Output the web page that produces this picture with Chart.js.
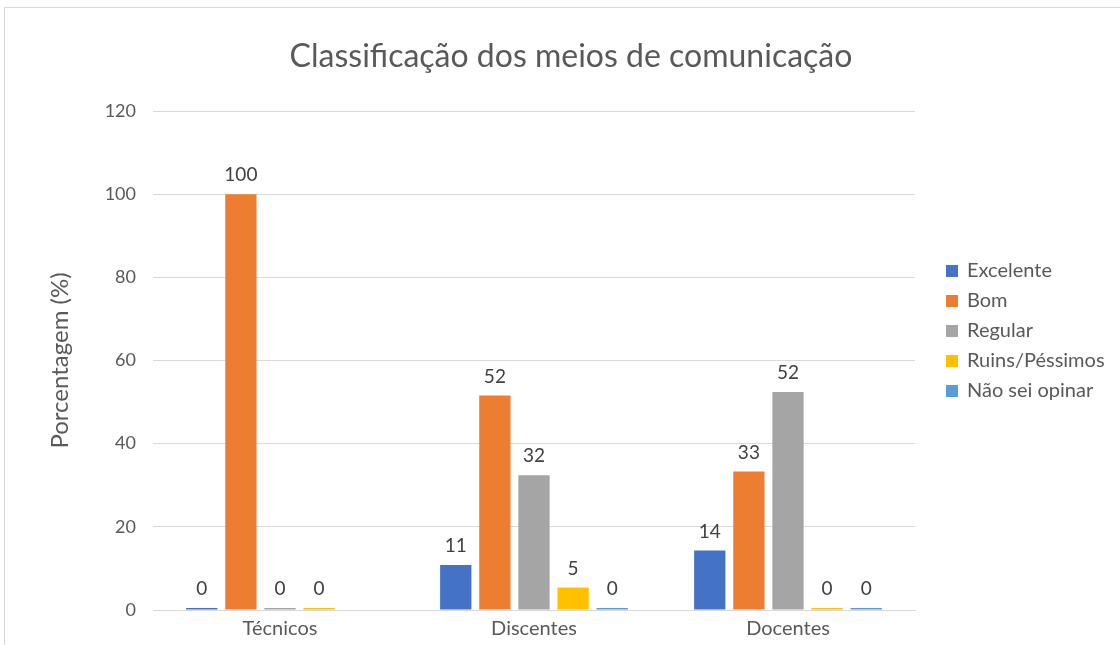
<!DOCTYPE html>
<html>
<head>
<meta charset="utf-8">
<script src="https://cdn.jsdelivr.net/npm/chart.js@4.4.1/dist/chart.umd.min.js"></script>
<style>
  html, body { margin: 0; padding: 0; background: #fff; }
  #wrap { position: relative; width: 1120px; height: 645px; overflow: hidden; }
  #frame { position: absolute; left: 4px; top: 7px; width: 1200px; height: 700px; border: 1px solid #d9d9d9; box-sizing: border-box; }
  canvas { position: absolute; left: 0; top: 0; }
</style>
</head>
<body>
<div id="wrap">
  <div id="frame"></div>
  <canvas id="c" width="1120" height="645"></canvas>
</div>
<script>
const categories = ["Técnicos", "Discentes", "Docentes"];
const seriesNames = ["Excelente", "Bom", "Regular", "Ruins/Péssimos", "Não sei opinar"];
const excelente = [0, 10.8, 14.3];
const bom = [100, 51.6, 33.3];
const regular = [0, 32.4, 52.4];
const ruins = [0, 5.4, 0];
const naoSei = [null, 0, 0];
const yTicks = [0, 20, 40, 60, 80, 100, 120];
const colors = ["#4472C4", "#ED7D31", "#A5A5A5", "#FFC000", "#5B9BD5"];
const chartTitle = "Classificação dos meios de comunicação";

const FONT = "Lato, 'Open Sans', sans-serif";
const seriesData = [excelente, bom, regular, ruins, naoSei];

const valueLabels = {
  id: 'valueLabels',
  afterDatasetsDraw(chart) {
    const ctx = chart.ctx;
    ctx.save();
    ctx.font = "19px " + FONT;
    ctx.fillStyle = "#404040";
    ctx.textAlign = "center";
    ctx.textBaseline = "middle";
    chart.data.datasets.forEach((ds, i) => {
      const meta = chart.getDatasetMeta(i);
      meta.data.forEach((bar, j) => {
        const v = ds.data[j];
        if (v === null || v === undefined) return;
        const top = Math.min(bar.y, bar.base);
        ctx.fillText(String(Math.round(v)), bar.x, top - 19);
      });
    });
    ctx.restore();
  }
};

const sideLegendAndTitle = {
  id: 'sideLegendAndTitle',
  afterDraw(chart) {
    const ctx = chart.ctx;
    ctx.save();
    ctx.font = "32px " + FONT;
    ctx.fillStyle = "#595959";
    ctx.textAlign = "center";
    ctx.textBaseline = "middle";
    ctx.fillText(chartTitle, 571, 57);

    ctx.font = "20px " + FONT;
    ctx.textBaseline = "middle";
    ctx.textAlign = "left";
    chart.data.datasets.forEach((ds, i) => {
      const cy = 270 + i * 30;
      ctx.fillStyle = ds.backgroundColor;
      ctx.fillRect(946, cy - 5, 12, 12);
      ctx.fillStyle = "#595959";
      ctx.fillText(ds.label, 967, cy + 1);
    });
    ctx.restore();
  }
};

new Chart(document.getElementById('c'), {
  type: 'bar',
  data: {
    labels: categories,
    datasets: seriesNames.map((n, i) => ({
      label: n,
      data: seriesData[i],
      backgroundColor: colors[i],
      borderWidth: 0,
      minBarLength: 2,
      categoryPercentage: 0.77,
      barPercentage: 0.8
    }))
  },
  options: {
    responsive: false,
    animation: false,
    devicePixelRatio: 1,
    layout: { padding: { top: 111, left: 0, right: 205, bottom: 0 } },
    plugins: {
      legend: { display: false },
      tooltip: { enabled: false },
      title: { display: false }
    },
    scales: {
      x: {
        grid: { display: false, drawTicks: false },
        border: { display: true, color: "#d9d9d9", width: 1 },
        ticks: { color: "#595959", font: { family: FONT, size: 20 }, padding: 7 },
        afterFit(s) { s.height = 35; }
      },
      y: {
        min: 0, max: 120,
        afterBuildTicks(s) { s.ticks = yTicks.map(v => ({ value: v })); },
        grid: { color: "#d9d9d9", drawTicks: false },
        border: { display: false },
        ticks: { color: "#595959", font: { family: FONT, size: 18 }, padding: 17 },
        title: {
          display: true,
          text: "Porcentagem (%)",
          color: "#595959",
          font: { family: FONT, size: 24 },
          padding: { top: 46, bottom: 0 }
        },
        afterFit(s) { s.width = 153; }
      }
    }
  },
  plugins: [valueLabels, sideLegendAndTitle]
});
</script>
</body>
</html>
